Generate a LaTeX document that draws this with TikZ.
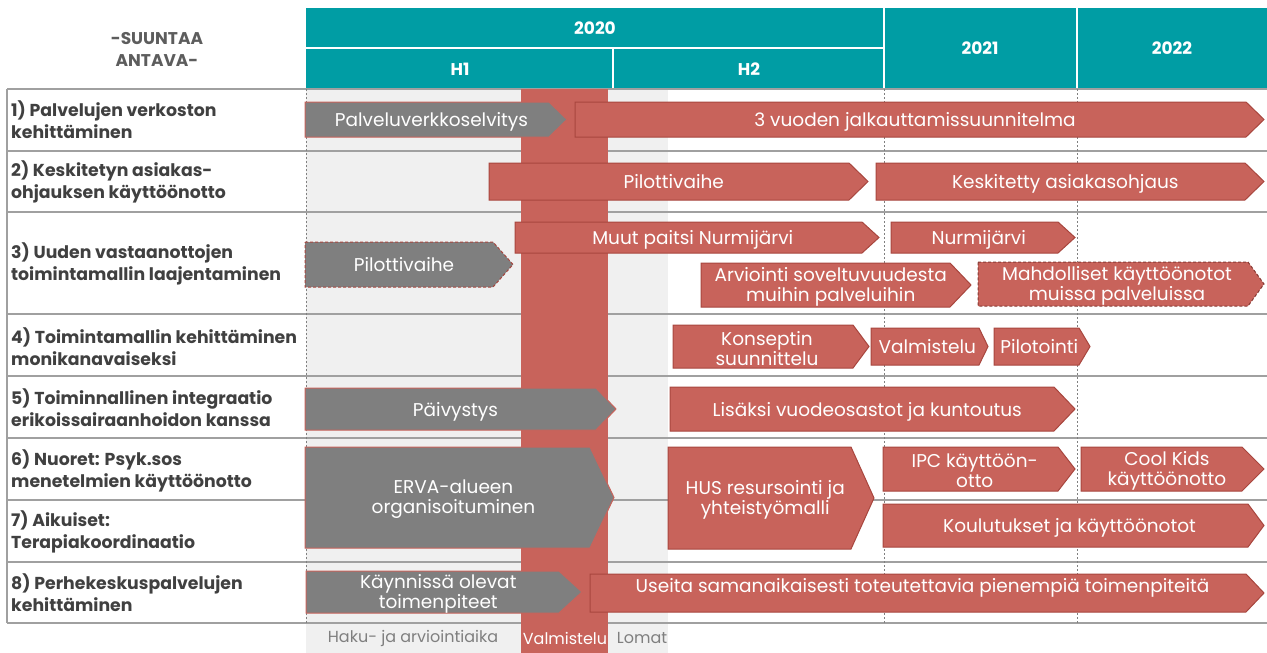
\documentclass[tikz,border=0pt]{standalone}
\usepackage{fontspec}
\setmainfont{Poppins}
\usetikzlibrary{positioning}

\definecolor{hdrteal}{RGB}{0,157,164}
\definecolor{barred}{RGB}{200,99,91}
\definecolor{barline}{RGB}{168,70,62}
\definecolor{bargray}{RGB}{127,127,127}
\definecolor{labelgray}{RGB}{64,64,64}
\definecolor{rulegray}{RGB}{160,160,160}

\tikzset{
  redbar/.style={fill=barred,draw=barline,line width=1pt},
  graybar/.style={fill=bargray,draw=barred,line width=1pt},
  graydash/.style={fill=bargray,draw=barline,line width=1pt,dash pattern=on 3pt off 2pt},
  reddash/.style={fill=barred,draw=barline!80!black,line width=1pt,dash pattern=on 3pt off 2pt},
  bartext/.style={text=white,align=center,font=\fontsize{18.5}{20}\selectfont},
  rowlabel/.style={anchor=west,align=left,text=labelgray,font=\bfseries\fontsize{17.3}{22}\selectfont},
  hdrtext/.style={text=white,font=\bfseries\fontsize{17}{20}\selectfont},
  foottext/.style={text=bargray,font=\fontsize{16}{18}\selectfont},
  rowline/.style={draw=rulegray,line width=1.5pt},
  gridline/.style={draw=gray,line width=0.6pt,dash pattern=on 2pt off 2pt}
}

\begin{document}
\begin{tikzpicture}[x=1pt,y=-1pt,every node/.style={inner sep=0pt}]
\useasboundingbox (0,0) rectangle (1267,653);

%% shaded periods
\fill[gray!12] (306,89) rectangle (668,653);

%% table rules
\foreach \y in {89,151,212,314,376,438,500,562,623}
  \draw[rowline] (7,\y) -- (1267,\y);
\draw[rowline] (7,89) -- (7,623);

%% preparation column
\fill[barred] (521,89) rectangle (608,653);

\foreach \x in {306,884,1077}
  \draw[gridline] (\x,89) -- (\x,623);

%% header
\fill[hdrteal] (306,8) rectangle (1267,88);
\draw[white,line width=2pt] (884,8) -- (884,88) (1077,8) -- (1077,88)
  (306,48) -- (884,48) (613,48) -- (613,88);
\node[hdrtext] (y2020) at (595,28) {2020};
\node[hdrtext] (h1) at (460,69) {H1};
\node[hdrtext] (h2) at (749,69) {H2};
\node[hdrtext] (y2021) at (980,48) {2021};
\node[hdrtext] (y2022) at (1172,48) {2022};
\node[align=center,text=labelgray!85,font=\bfseries\fontsize{17}{22}\selectfont] (suuntaa) at (157,49) {-SUUNTAA\\ANTAVA-};

%% row labels
\def\rowlabels{
rowa/120/{1) Palvelujen verkoston}/{kehittäminen},
rowb/182/{2) Keskitetyn asiakas-}/{ohjauksen käyttöönotto},
rowc/264/{3) Uuden vastaanottojen}/{toimintamallin laajentaminen},
rowd/347/{4) Toimintamallin kehittäminen}/{monikanavaiseksi},
rowe/408/{5) Toiminnallinen integraatio}/{erikoissairaanhoidon kanssa},
rowf/471/{6) Nuoret: Psyk.sos}/{menetelmien käyttöönotto},
rowg/532/{7) Aikuiset:}/{Terapiakoordinaatio},
rowh/593/{8) Perhekeskuspalvelujen}/{kehittäminen}
}
\foreach \nm/\yc/\ta/\tb in \rowlabels
  \node[rowlabel] (\nm) at (11,\yc) {\ta\\\tb};

%% bars: name/x start/x end/y top/y bottom/tip/style/line 1/line 2
\def\bars{
palv/305/567/102/137/18/graybar/{Palveluverkkoselvitys}/{},
jalk/575/1264/102/137/18/redbar/{3 vuoden jalkauttamissuunnitelma}/{},
pilot/489/868/163/200/19/redbar/{Pilottivaihe}/{},
kesk/876/1264/163/200/19/redbar/{Keskitetty asiakasohjaus}/{},
muut/515/879/222/253/17/redbar/{Muut paitsi Nurmijärvi}/{},
nurmi/891/1075/222/253/17/redbar/{Nurmijärvi}/{},
pilotb/305/513/242/287/20/graydash/{Pilottivaihe}/{},
arvi/701/971/263/307/21/redbar/{Arviointi soveltuvuudesta}/{muihin palveluihin},
mahd/978/1264/262/306/16/reddash/{Mahdolliset käyttöönotot}/{muissa palveluissa},
kons/673/869/325/368/16/redbar/{Konseptin}/{suunnittelu},
valm/871/988/328/365/9/redbar/{Valmistelu}/{},
pilo/994/1090/328/365/11/redbar/{Pilotointi}/{},
paiv/305/616/388/430/20/graybar/{Päivystys}/{},
lisa/670/1075/387/431/21/redbar/{Lisäksi vuodeosastot ja kuntoutus}/{},
erva/305/614/447/548/24/graybar/{ERVA-alueen}/{organisoituminen},
hus/668/874/447/549/23/redbar/{HUS resursointi ja}/{yhteistyömalli},
ipc/883/1075/447/491/17/redbar/{IPC käyttöön-}/{otto},
cool/1081/1264/447/491/22/redbar/{Cool Kids}/{käyttöönotto},
koul/883/1264/504/547/16/redbar/{Koulutukset ja käyttöönotot}/{},
kayn/306/582/571/613/23/graybar/{Käynnissä olevat}/{toimenpiteet},
usei/590/1264/574/612/18/redbar/{Useita samanaikaisesti toteutettavia pienempiä toimenpiteitä}/{}
}
\foreach \nm/\xa/\xb/\ya/\yb/\tip/\sty/\ta/\tb in \bars
{
  \pgfmathsetmacro\xm{\xb-\tip}
  \pgfmathsetmacro\ym{(\ya+\yb)/2}
  \pgfmathsetmacro\xc{(\xa+\xb-\tip/2)/2}
  \draw[\sty] (\xa,\ya) -- (\xm,\ya) -- (\xb,\ym) -- (\xm,\yb) -- (\xa,\yb) -- cycle;
  \ifx\tb\empty
    \pgfmathsetmacro\yt{\ym+7}
    \node[bartext,anchor=base] (\nm) at (\xc,\yt) {\ta};
  \else
    \pgfmathsetmacro\yt{\ym+2}
    \node[bartext] (\nm) at (\xc,\yt) {\ta\\\tb};
  \fi
}

%% period names
\node[foottext] (haku) at (413,638) {Haku- ja arviointiaika};
\node[foottext,text=white] (valmfoot) at (565,638) {Valmistelu};
\node[foottext] (lomat) at (642,638) {Lomat};
\end{tikzpicture}
\end{document}
